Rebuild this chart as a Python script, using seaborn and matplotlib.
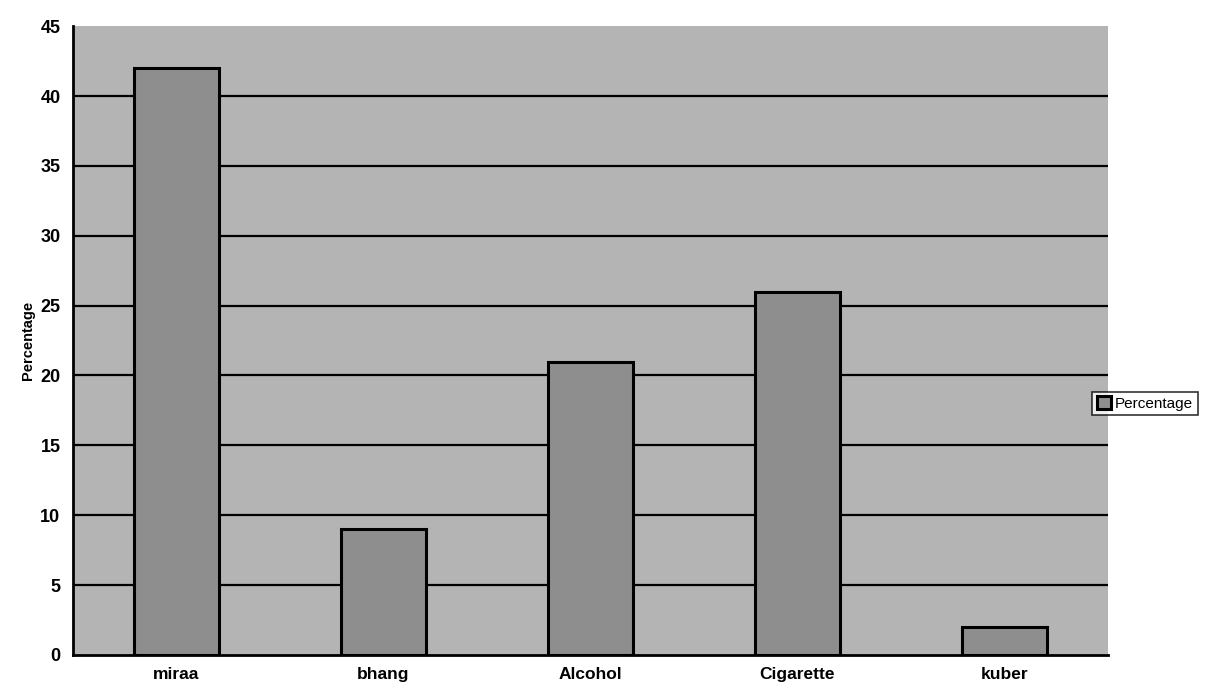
import matplotlib
matplotlib.use("Agg")
import matplotlib.pyplot as plt
import seaborn as sns
import pandas as pd

# Substance use shares (percent of respondents)
substances = ["miraa", "bhang", "Alcohol", "Cigarette", "kuber"]
percentages = [42, 9, 21, 26, 2]
y_ticks = [0, 5, 10, 15, 20, 25, 30, 35, 40, 45]

df = pd.DataFrame({"substance": substances, "Percentage": percentages})

sns.set_theme(style="white")
plt.rcParams["font.family"] = ["Liberation Sans", "DejaVu Sans"]
plt.rcParams["text.color"] = "black"
plt.rcParams["axes.labelcolor"] = "black"
plt.rcParams["xtick.color"] = "black"
plt.rcParams["ytick.color"] = "black"

fig = plt.figure(figsize=(12.16, 6.88), dpi=100)
ax = fig.add_axes([0.06, 0.048, 0.851, 0.914])
ax.set_facecolor("#b4b4b4")

# horizontal grid lines at every 5%
for v in y_ticks[1:-1]:
    ax.axhline(v, color="black", linewidth=1.6, zorder=1)

sns.barplot(data=df, x="substance", y="Percentage", color="#8e8e8e",
            width=0.41, edgecolor="black", linewidth=2.2, saturation=1,
            label="Percentage", ax=ax, zorder=2)

ax.set_ylim(0, 45)
ax.set_xlim(-0.5, len(substances) - 0.5)
ax.set_yticks(y_ticks)
ax.set_yticklabels([str(t) for t in y_ticks], fontsize=13, fontweight="bold")
ax.set_xticks(range(len(substances)))
ax.set_xticklabels(substances, fontsize=12.5, fontweight="bold")
ax.tick_params(axis="y", direction="out", length=6, width=1.6, color="black", pad=3)
ax.tick_params(axis="x", length=0, pad=9)
ax.set_xlabel("")
ax.set_ylabel("Percentage", fontsize=10.5, fontweight="bold", labelpad=4)

for side in ["top", "right"]:
    ax.spines[side].set_visible(False)
ax.spines["left"].set_color("black")
ax.spines["left"].set_linewidth(2)
ax.spines["bottom"].set_color("black")
ax.spines["bottom"].set_linewidth(2)

leg = ax.legend(loc="center left", bbox_to_anchor=(0.985, 0.40), fontsize=11,
                frameon=True, fancybox=False, edgecolor="black",
                handlelength=0.9, handleheight=0.9, handletextpad=0.3,
                borderpad=0.3, borderaxespad=0)
leg.get_frame().set_linewidth(1.2)
leg.get_frame().set_facecolor("white")

fig.savefig("out.png", dpi=100)
